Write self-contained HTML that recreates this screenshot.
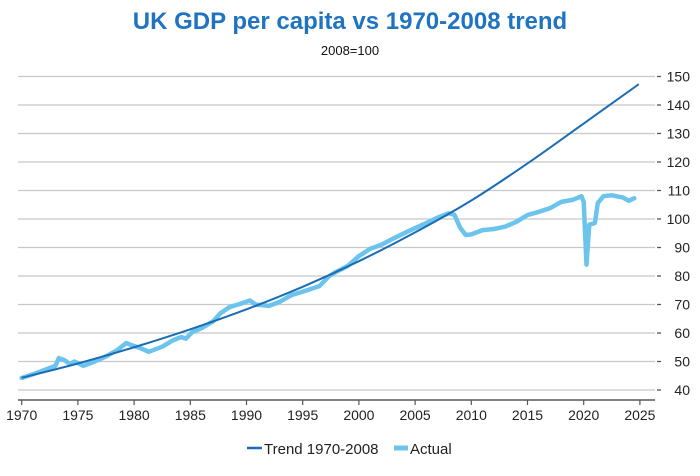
<!DOCTYPE html>
<html><head><meta charset="utf-8"><style>
body{margin:0;background:#fff;}
svg{display:block;font-family:"Liberation Sans",Arial,sans-serif;}
</style></head><body>
<svg id="chart" width="700" height="476" viewBox="0 0 700 476">
<text x="350" y="29" text-anchor="middle" font-size="24" font-weight="bold" fill="#1f74c2">UK GDP per capita vs 1970-2008 trend</text>
<text x="350" y="55" text-anchor="middle" font-size="13" fill="#111">2008=100</text>
<g id="grid"></g><g id="xaxis"></g><g id="yaxis"></g><g id="series"></g>
<g>
<line x1="247" y1="448" x2="262" y2="448" stroke="#1a6db5" stroke-width="2.5"/>
<text x="264" y="454" font-size="15" fill="#222">Trend 1970-2008</text>
<line x1="394" y1="448" x2="408" y2="448" stroke="#6cc4ec" stroke-width="5"/>
<text x="410" y="454" font-size="15" fill="#222">Actual</text>
</g>
</svg>
<script>
const yTicks=[40,50,60,70,80,90,100,110,120,130,140,150];
const xTicks=[1970,1975,1980,1985,1990,1995,2000,2005,2010,2015,2020,2025];
const trendYears=[1970,1975,1980,1985,1990,1995,2000,2005,2010,2015,2020,2024.9];
const trendValues=[44.3,49.3,55.0,61.3,68.3,76.2,85.2,95.3,106.5,119.5,133.5,147.3];
const actualYears=[1970,1971,1972,1973,1973.3,1973.8,1974.3,1974.7,1975.5,1976.5,1977.5,1978.5,1979.3,1979.8,1980.5,1981.3,1982.5,1983.5,1984.2,1984.6,1985.2,1986,1987,1987.7,1988.5,1989.5,1990.3,1990.8,1992,1993,1994,1995,1996.5,1997.3,1998,1999,2000,2001,2002,2003,2004,2005,2006,2007,2008,2008.5,2009,2009.5,2010,2011,2012,2013,2014,2015,2016,2017,2018,2019,2019.8,2020,2020.25,2020.5,2021,2021.25,2021.75,2022.5,2023.5,2024,2024.5];
const actualValues=[44.2,45.5,47,48.5,51.2,50.5,49.1,50,48.5,50,51.8,54,56.5,55.7,54.8,53.4,55.2,57.5,58.6,58,60.4,61.7,64,67,69.1,70.3,71.4,70,69.5,71,73.3,74.5,76.5,79.8,81.5,83.5,87,89.5,91,93,95,96.8,98.6,100.5,102,101.5,97,94.4,94.6,96.1,96.5,97.3,99,101.4,102.5,103.8,106,106.7,108,106,84,98,98.6,105.6,108,108.3,107.5,106.4,107.3];
const X0=18,X1=655;
function xs(yr){return 21.7+(yr-1970)*11.24;}
function ys(v){return 219-(v-100)*2.85;}
const ns="http://www.w3.org/2000/svg";
function mk(t,a,p){const e=document.createElementNS(ns,t);for(const k in a)e.setAttribute(k,a[k]);p.appendChild(e);return e;}
const grid=document.getElementById('grid'),ya=document.getElementById('yaxis'),xa=document.getElementById('xaxis'),se=document.getElementById('series');
yTicks.forEach(v=>{
 const g=mk('line',{x1:X0,x2:X1,y1:ys(v),y2:ys(v),stroke:'#c8c8c8','stroke-width':1.3},grid);
 
 
 const t=mk('line',{x1:657,x2:661,y1:ys(v),y2:ys(v),stroke:'#555','stroke-width':1.3},ya);
 
 
 const l=mk('text',{x:690,y:ys(v)+5,'text-anchor':'end','font-size':14,fill:'#222'},ya);
 l.textContent=v;
 
 
});
const ax=mk('line',{x1:X0,x2:X1,y1:400,y2:400,stroke:'#808080','stroke-width':2},xa);


xTicks.forEach(yr=>{
 const t=mk('line',{x1:xs(yr),x2:xs(yr),y1:400,y2:405,stroke:'#555','stroke-width':1.2},xa);
 
 
 const l=mk('text',{x:xs(yr),y:420,'text-anchor':'middle','font-size':14,fill:'#222'},xa);
 l.textContent=yr;
 
 
});
function pts(xv,yv){return xv.map((x,i)=>xs(x).toFixed(1)+','+ys(yv[i]).toFixed(1)).join(' ');}
const a=mk('polyline',{points:pts(actualYears,actualValues),fill:'none',stroke:'#6cc4ec','stroke-width':4.5,'stroke-linejoin':'round','stroke-linecap':'round'},se);


function smooth(xv,yv){const p=xv.map((x,i)=>[xs(x),ys(yv[i])]);let d='M'+p[0][0]+','+p[0][1];
for(let i=0;i<p.length-1;i++){const p0=p[i-1]||p[i],p1=p[i],p2=p[i+1],p3=p[i+2]||p2;
d+=' C'+(p1[0]+(p2[0]-p0[0])/6)+','+(p1[1]+(p2[1]-p0[1])/6)+' '+(p2[0]-(p3[0]-p1[0])/6)+','+(p2[1]-(p3[1]-p1[1])/6)+' '+p2[0]+','+p2[1];}return d;}
const tr=mk('path',{d:smooth(trendYears,trendValues),fill:'none',stroke:'#1a6db5','stroke-width':2},se);


</script>
</body></html>
